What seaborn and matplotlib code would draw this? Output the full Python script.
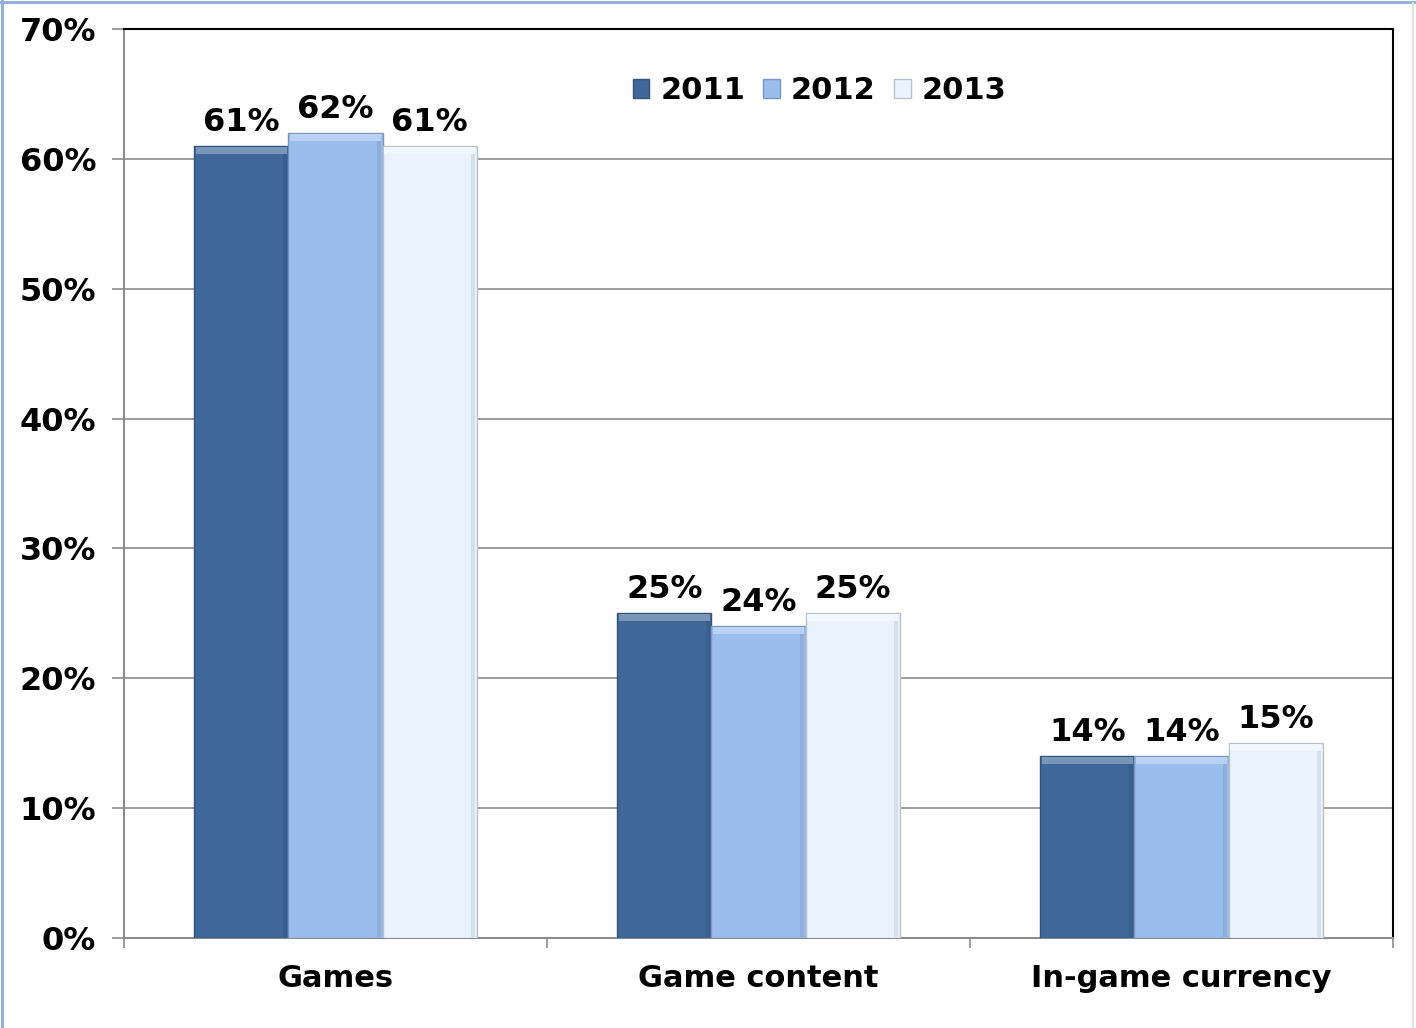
import matplotlib
matplotlib.use("Agg")
import matplotlib.pyplot as plt
import matplotlib.colors as mcolors
from matplotlib.patches import Rectangle
from matplotlib.lines import Line2D
import seaborn as sns
import pandas as pd

categories = ["Games", "Game content", "In-game currency"]
years = ["2011", "2012", "2013"]
values_2011 = [61, 25, 14]
values_2012 = [62, 24, 14]
values_2013 = [61, 25, 15]
y_ticks = [0, 10, 20, 30, 40, 50, 60, 70]
y_tick_labels = ["0%", "10%", "20%", "30%", "40%", "50%", "60%", "70%"]

colors = {"2011": "#3F6899", "2012": "#9BBDEE", "2013": "#EAF3FD"}

df = pd.DataFrame({
    "category": categories * 3,
    "year": [y for y in years for _ in categories],
    "value": values_2011 + values_2012 + values_2013,
})

sns.set_style("white")
plt.rcParams["font.family"] = ["DejaVu Sans"]
plt.rcParams["font.weight"] = "bold"
plt.rcParams["text.color"] = "black"
plt.rcParams["xtick.color"] = "black"
plt.rcParams["ytick.color"] = "black"

fig = plt.figure(figsize=(14.16, 10.28), dpi=100)
ax = fig.add_axes([124 / 1416, 1 - 938 / 1028, (1393 - 124) / 1416, (938 - 29) / 1028])

sns.barplot(data=df, x="category", y="value", hue="year", order=categories,
            hue_order=years, palette=colors, width=0.667, gap=0,
            saturation=1, errorbar=None, ax=ax, legend=False, zorder=3)

# bevelled look: darker outline, light top edge, shaded right edge
for patch in ax.patches:
    base = patch.get_facecolor()
    dark = tuple(c * 0.8 for c in base[:3])
    light = tuple(min(1, c + (1 - c) * 0.3) for c in base[:3])
    patch.set_edgecolor(dark)
    patch.set_linewidth(1.0)
    x0, w, h = patch.get_x(), patch.get_width(), patch.get_height()
    ax.add_patch(Rectangle((x0 + 0.004, h - 0.6), w - 0.008, 0.55,
                           facecolor=light, edgecolor="none", zorder=4))
    ax.add_patch(Rectangle((x0 + w - 0.012, 0.05), 0.009, h - 0.65,
                           facecolor=dark, edgecolor="none", alpha=0.4, zorder=4))

# value labels above each bar
for cont in ax.containers:
    ax.bar_label(cont, labels=[f"{v:.0f}%" for v in cont.datavalues],
                 padding=6, fontsize=23, fontweight="bold", color="black", zorder=5)

ax.set_ylim(0, 70)
ax.set_xlim(-0.5, 2.5)
ax.set_yticks(y_ticks)
ax.set_yticklabels(y_tick_labels, fontsize=23, fontweight="bold")
ax.set_xticks(range(len(categories)))
ax.set_xticklabels(categories, fontsize=22, fontweight="bold")
ax.set_xticks([-0.5, 0.5, 1.5, 2.5], minor=True)
ax.tick_params(axis="x", which="major", bottom=True, length=0, pad=19)
ax.tick_params(axis="x", which="minor", bottom=True, length=7, width=1.2,
               color="#8C8C8C", direction="out")
ax.tick_params(axis="y", left=True, length=9, width=1.2, color="#8C8C8C", pad=11)
ax.set_xlabel("")
ax.set_ylabel("")

ax.yaxis.grid(True, color="#8C8C8C", linewidth=1.2, zorder=0)
ax.set_axisbelow(True)
for side in ["left", "bottom"]:
    ax.spines[side].set_color("#8C8C8C")
    ax.spines[side].set_linewidth(1.5)
for side in ["top", "right"]:
    ax.spines[side].set_color("black")
    ax.spines[side].set_linewidth(1.5)

handles = [Rectangle((0, 0), 1, 1, facecolor=colors[y],
                     edgecolor=tuple(c * 0.8 for c in mcolors.to_rgb(colors[y])))
           for y in years]
fig.legend(handles, years, loc="center", bbox_to_anchor=(0.5787, 0.9115), ncol=3,
           frameon=False, prop={"size": 22, "weight": "bold"},
           handlelength=0.55, handleheight=0.55, handletextpad=0.35,
           columnspacing=0.6)

# window edges: blue on top and left, faint grey on the right
fig.add_artist(Line2D([0, 1], [1 - 1.5 / 1028] * 2, transform=fig.transFigure,
                      color="#95B3D7", linewidth=2.2))
fig.add_artist(Line2D([1.5 / 1416] * 2, [0, 1], transform=fig.transFigure,
                      color="#95B3D7", linewidth=2.2))
fig.add_artist(Line2D([1 - 3.5 / 1416] * 2, [0, 1 - 3 / 1028], transform=fig.transFigure,
                      color="#E2E2E2", linewidth=1.5))

fig.savefig("out.png", dpi=100)
